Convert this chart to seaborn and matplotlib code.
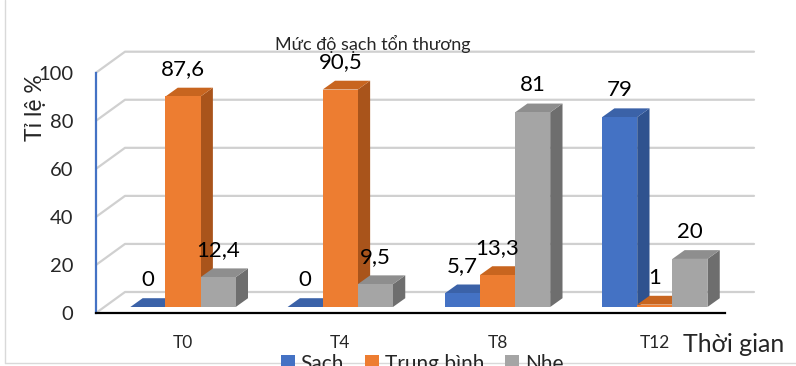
import numpy as np
import pandas as pd
import matplotlib
matplotlib.use("Agg")
import matplotlib.pyplot as plt
import seaborn as sns
from matplotlib.transforms import Affine2D, IdentityTransform
from matplotlib.patches import Polygon, Patch
from matplotlib.lines import Line2D

# ---- data ----
times = ["T0", "T4", "T8", "T12"]
levels = ["Sạch", "Trung bình", "Nhẹ"]
sach = [0, 0, 5.7, 79]
trung_binh = [87.6, 90.5, 13.3, 1]
nhe = [12.4, 9.5, 81, 20]
y_ticks = [0, 20, 40, 60, 80, 100]

front_colors = ["#4472C4", "#ED7D31", "#A5A5A5"]
top_colors = ["#3B62A8", "#C8651F", "#8E8E8E"]
side_colors = ["#2F528F", "#A9541B", "#6E6E6E"]

df = pd.DataFrame({
    "Thời gian": times * 3,
    "Mức độ": np.repeat(levels, len(times)),
    "Tỉ lệ": sach + trung_binh + nhe,
})

sns.set_theme(style="white")
plt.rcParams["font.family"] = ["Lato", "Noto Sans", "DejaVu Sans"]

W, H = 796, 366
fig = plt.figure(figsize=(W / 100, H / 100), dpi=100)
# front plane of the pseudo-3D box
ax = fig.add_axes([96 / W, 53 / H, 629 / W, 240.3 / H])

sns.barplot(data=df, x="Thời gian", y="Tỉ lệ", hue="Mức độ",
            palette=front_colors, width=0.67, gap=0, saturation=1,
            errorbar=None, legend=False, ax=ax)
ax.set_xlim(-0.5, 3.5)
ax.set_ylim(0, 100)
ax.set_xlabel("")
ax.set_ylabel("")
ax.set_xticks([])
ax.set_yticks(y_ticks)
ax.set_yticklabels([str(v) for v in y_ticks], fontsize=14.5)
ax.tick_params(axis="y", length=0, pad=16.5)
for s in ["top", "right"]:
    ax.spines[s].set_visible(False)
ax.spines["left"].set_color("#4472C4")
ax.spines["left"].set_linewidth(1.6)
ax.spines["bottom"].set_color("black")
ax.spines["bottom"].set_linewidth(1.6)
ax.patch.set_alpha(0)

# depth offsets in pixels
wall_dx, wall_dy = 29, 21      # back wall
bar_dx, bar_dy = 8.4, 6        # plane of bar fronts
depth_dx, depth_dy = 12.3, 8.8  # bar depth

# back wall gridlines with diagonal connectors
for v in y_ticks:
    fx, fy = ax.transData.transform((-0.5, v))
    ex, _ = ax.transData.transform((3.5, v))
    ax.add_line(Line2D([fx, fx + wall_dx, ex + wall_dx],
                       [fy, fy + wall_dy, fy + wall_dy],
                       transform=IdentityTransform(), color="#D0D0D0",
                       lw=1.6, clip_on=False, zorder=1))

bar_tr = ax.transData + Affine2D().translate(bar_dx, bar_dy)
label_tr = ax.transData + Affine2D().translate(bar_dx, bar_dy + 27)

bars = []
for si, cont in enumerate(ax.containers):
    for rect in cont.patches:
        bars.append((rect.get_x(), si, rect))
bars.sort(key=lambda b: b[0])

for k, (x, si, rect) in enumerate(bars):
    w = rect.get_width()
    h = rect.get_height()
    z = 3 + k * 0.1
    rect.set_transform(bar_tr)
    rect.set_zorder(z + 0.02)
    rect.set_edgecolor("none")
    rect.set_clip_on(False)
    x0, y0 = bar_tr.transform((x, 0))
    x1, y1 = bar_tr.transform((x + w, h))
    side = Polygon([(x1, y0), (x1, y1), (x1 + depth_dx, y1 + depth_dy),
                    (x1 + depth_dx, y0 + depth_dy)], closed=True,
                   facecolor=side_colors[si], edgecolor="none",
                   transform=IdentityTransform(), clip_on=False, zorder=z)
    top = Polygon([(x0, y1), (x1, y1), (x1 + depth_dx, y1 + depth_dy),
                   (x0 + depth_dx, y1 + depth_dy)], closed=True,
                  facecolor=top_colors[si], edgecolor="none",
                  transform=IdentityTransform(), clip_on=False, zorder=z + 0.01)
    ax.add_patch(side)
    ax.add_patch(top)
    txt = f"{h:g}".replace(".", ",")
    ax.text(x + w / 2, h, txt, transform=label_tr, ha="center", va="center",
            fontsize=16, color="black", zorder=10, clip_on=False)

# category labels under each group
cat_tr = ax.transData + Affine2D().translate(bar_dx, -30)
for i, t in enumerate(times):
    ax.text(i, 0, t, transform=cat_tr, ha="center", va="center",
            fontsize=12.5, clip_on=False)

fig.text(373 / W, 1 - 44 / H, "Mức độ sạch tổn thương", ha="center",
         va="center", fontsize=13)
fig.text(35 / W, 1 - 108 / H, "Tỉ lệ %", rotation=90, ha="center",
         va="center", fontsize=16.5)
fig.text(734 / W, 1 - 345 / H, "Thời gian", ha="center", va="center",
         fontsize=18)

# chart frame
fig.add_artist(Line2D([5 / W, 5 / W], [1 - 363 / H, 1], transform=fig.transFigure,
                      color="#D9D9D9", lw=1))
fig.add_artist(Line2D([5 / W, 1], [1 - 363 / H, 1 - 363 / H],
                      transform=fig.transFigure, color="#D9D9D9", lw=1))

handles = [Patch(facecolor=c, edgecolor="none") for c in front_colors]
fig.legend(handles, levels, loc="center", bbox_to_anchor=(422 / W, 1 - 364 / H),
           ncol=3, frameon=False, fontsize=15, handlelength=0.7,
           handleheight=0.7, handletextpad=0.25, columnspacing=1.0,
           borderpad=0)

fig.savefig("out.png", dpi=100)
